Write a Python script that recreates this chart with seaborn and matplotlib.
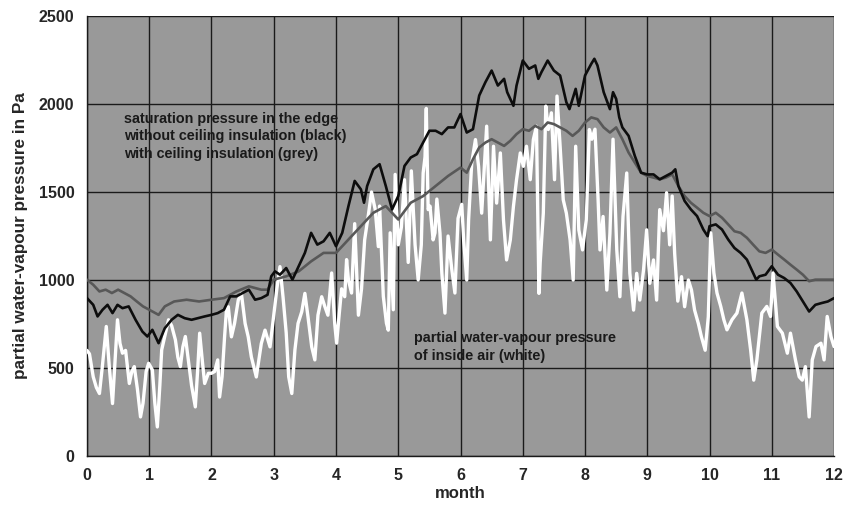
import matplotlib
matplotlib.use("Agg")
import matplotlib.pyplot as plt
import seaborn as sns
import pandas as pd

# ---- data ----
black_month = [0.0, 0.1, 0.17, 0.25, 0.33, 0.41, 0.49, 0.57, 0.67, 0.78, 0.89, 0.97, 1.05, 1.15,
               1.25, 1.36, 1.46, 1.57, 1.68, 1.78, 1.89, 2.0, 2.1, 2.2, 2.3, 2.4, 2.5, 2.6, 2.7,
               2.8, 2.9, 2.96, 3.02, 3.1, 3.2, 3.3, 3.4, 3.5, 3.6, 3.7, 3.8, 3.9, 4.0, 4.1, 4.2,
               4.3, 4.4, 4.45, 4.5, 4.6, 4.7, 4.8, 4.9, 5.0, 5.1, 5.2, 5.3, 5.4, 5.5, 5.6, 5.7,
               5.8, 5.9, 6.0, 6.1, 6.2, 6.3, 6.4, 6.5, 6.6, 6.7, 6.75, 6.8, 6.85, 6.9, 7.0, 7.1,
               7.2, 7.25, 7.3, 7.4, 7.5, 7.6, 7.7, 7.75, 7.8, 7.85, 7.9, 8.0, 8.1, 8.15, 8.2, 8.3,
               8.4, 8.45, 8.5, 8.55, 8.6, 8.7, 8.8, 8.9, 9.0, 9.1, 9.2, 9.3, 9.4, 9.45, 9.5, 9.6,
               9.7, 9.8, 9.9, 9.97, 10.0, 10.1, 10.2, 10.3, 10.4, 10.5, 10.6, 10.7, 10.75, 10.8,
               10.9, 11.0, 11.1, 11.2, 11.3, 11.4, 11.5, 11.6, 11.7, 11.8, 11.9, 12.0]
black_pa = [897, 859, 793, 831, 859, 812, 859, 840, 850, 774, 707, 679, 717, 641,
            726, 774, 802, 783, 774, 783, 793, 802, 812, 831, 907, 907, 926, 945, 888,
            897, 916, 1021, 1049, 1030, 1068, 1002, 1078, 1154, 1268, 1201, 1220, 1268, 1192, 1268, 1420,
            1563, 1515, 1439, 1534, 1629, 1658, 1534, 1401, 1477, 1648, 1696, 1715, 1781, 1848, 1848, 1829,
            1867, 1867, 1943, 1838, 1857, 2048, 2124, 2190, 2105, 2143, 2067, 2029, 1990, 2105, 2247, 2200,
            2219, 2143, 2181, 2247, 2190, 2162, 2010, 1971, 2029, 2086, 1990, 2162, 2228, 2257, 2219, 2067,
            1971, 2067, 2029, 1924, 1867, 1819, 1705, 1610, 1600, 1600, 1572, 1591, 1610, 1629, 1534, 1449,
            1401, 1363, 1287, 1249, 1306, 1316, 1287, 1230, 1182, 1154, 1116, 1040, 1002, 1021,
            1030, 1078, 1030, 1011, 983, 935, 878, 821, 859, 869, 878, 897]

grey_month = [0.0, 0.1, 0.2, 0.3, 0.4, 0.5, 0.6, 0.7, 0.8, 0.9, 1.0, 1.15, 1.25, 1.4, 1.6, 1.8,
              2.0, 2.2, 2.4, 2.6, 2.8, 2.9, 3.0, 3.2, 3.4, 3.6, 3.8, 4.0, 4.2, 4.4, 4.6, 4.8,
              5.0, 5.2, 5.4, 5.6, 5.8, 6.0, 6.1, 6.2, 6.3, 6.4, 6.5, 6.6, 6.7, 6.8, 6.9, 7.0,
              7.1, 7.2, 7.3, 7.4, 7.5, 7.6, 7.7, 7.8, 7.9, 8.0, 8.1, 8.2, 8.3, 8.4, 8.5, 8.6,
              8.7, 8.8, 8.9, 9.0, 9.1, 9.2, 9.3, 9.4, 9.5, 9.6, 9.7, 9.8, 9.9, 10.0, 10.1, 10.2,
              10.3, 10.4, 10.5, 10.6, 10.7, 10.8, 10.9, 11.0, 11.1, 11.2, 11.3, 11.4, 11.5, 11.6,
              11.7, 11.8, 11.9, 12.0]
grey_pa = [1002, 973, 935, 945, 926, 945, 926, 907, 878, 850, 831, 802, 850, 878, 888, 878,
           888, 897, 935, 964, 945, 945, 1002, 1021, 1049, 1106, 1154, 1154, 1230, 1306, 1382, 1420,
           1344, 1439, 1477, 1534, 1591, 1639, 1610, 1686, 1753, 1781, 1800, 1781, 1762, 1791, 1829, 1857,
           1848, 1876, 1857, 1895, 1886, 1867, 1848, 1819, 1848, 1895, 1924, 1914, 1867, 1838, 1867, 1800,
           1724, 1667, 1610, 1591, 1582, 1572, 1582, 1600, 1534, 1477, 1439, 1411, 1382, 1363, 1382, 1354,
           1316, 1277, 1268, 1240, 1201, 1163, 1154, 1173, 1144, 1116, 1087, 1059, 1030, 993,
           1002, 1002, 1002, 1002]

white_month = [0.0, 0.04, 0.1, 0.15, 0.2, 0.25, 0.31, 0.36, 0.41, 0.46, 0.49, 0.53, 0.57, 0.62,
               0.68, 0.72, 0.76, 0.81, 0.86, 0.9, 0.95, 0.99, 1.05, 1.09, 1.13, 1.17, 1.2, 1.25,
               1.31, 1.36, 1.42, 1.46, 1.5, 1.54, 1.58, 1.63, 1.68, 1.74, 1.78, 1.81, 1.85, 1.89,
               1.95, 2.0, 2.05, 2.1, 2.13, 2.17, 2.21, 2.24, 2.27, 2.32, 2.37, 2.43, 2.48, 2.54,
               2.59, 2.64, 2.72, 2.8, 2.86, 2.94, 3.0, 3.05, 3.1, 3.15, 3.2, 3.24, 3.29, 3.34,
               3.39, 3.45, 3.5, 3.55, 3.61, 3.66, 3.71, 3.77, 3.82, 3.87, 3.93, 3.98, 4.01, 4.05,
               4.09, 4.14, 4.17, 4.2, 4.25, 4.3, 4.36, 4.41, 4.46, 4.52, 4.57, 4.63, 4.68, 4.7,
               4.76, 4.81, 4.84, 4.87, 4.92, 4.95, 5.0, 5.05, 5.1, 5.16, 5.21, 5.27, 5.32, 5.37,
               5.4, 5.43, 5.45, 5.48, 5.51, 5.56, 5.59, 5.62, 5.67, 5.7, 5.75, 5.8, 5.86, 5.91,
               5.96, 6.02, 6.05, 6.1, 6.13, 6.18, 6.24, 6.29, 6.34, 6.42, 6.48, 6.53, 6.58, 6.64,
               6.69, 6.74, 6.8, 6.85, 6.9, 6.96, 7.01, 7.06, 7.12, 7.17, 7.22, 7.26, 7.28, 7.33,
               7.37, 7.41, 7.46, 7.51, 7.55, 7.6, 7.65, 7.7, 7.76, 7.81, 7.85, 7.9, 7.96, 8.02,
               8.07, 8.11, 8.16, 8.21, 8.24, 8.29, 8.35, 8.4, 8.45, 8.51, 8.56, 8.61, 8.67, 8.72,
               8.78, 8.83, 8.88, 8.94, 8.99, 9.04, 9.1, 9.15, 9.2, 9.26, 9.31, 9.36, 9.4, 9.44,
               9.49, 9.55, 9.6, 9.66, 9.71, 9.76, 9.82, 9.87, 9.93, 9.98, 10.02, 10.07, 10.12, 10.18,
               10.23, 10.28, 10.36, 10.44, 10.52, 10.6, 10.66, 10.71, 10.76, 10.84, 10.92, 10.98, 11.02, 11.09,
               11.17, 11.25, 11.3, 11.38, 11.44, 11.49, 11.54, 11.6, 11.65, 11.71, 11.79, 11.84, 11.89, 11.95,
               12.0]
white_pa = [600, 580, 450, 390, 355, 520, 736, 500, 298, 600, 774, 640, 584, 600,
            412, 480, 508, 380, 222, 300, 480, 527, 489, 300, 165, 400, 603, 680,
            774, 740, 660, 560, 508, 620, 679, 540, 400, 279, 500, 698, 550, 412,
            470, 470, 480, 546, 335, 450, 677, 829, 848, 677, 753, 886, 924, 753,
            677, 563, 449, 639, 715, 620, 800, 950, 1076, 900, 700, 450, 355, 603,
            753, 820, 924, 791, 620, 546, 800, 905, 850, 800, 1040, 750, 641, 800,
            950, 905, 1116, 1000, 926, 1320, 800, 950, 1228, 1370, 1500, 1400, 1190, 1420,
            907, 755, 715, 1268, 831, 1600, 1200, 1300, 1570, 1100, 1620, 1200, 1000, 1200,
            1608, 1700, 1975, 1400, 1420, 1228, 1268, 1460, 1266, 1040, 812, 1250, 1060, 926,
            1350, 1430, 1228, 1000, 1342, 1665, 1798, 1646, 1380, 1874, 1228, 1760, 1437, 1722,
            1342, 1114, 1228, 1418, 1570, 1722, 1646, 1760, 1570, 1798, 1874, 924, 1100, 1380,
            1988, 1855, 1950, 1570, 2045, 1760, 1456, 1380, 1228, 1000, 1760, 1285, 1171, 1342,
            1855, 1800, 1857, 1456, 1171, 1361, 943, 1266, 1800, 1171, 905, 1361, 1608, 1038,
            829, 1038, 886, 1057, 1285, 981, 1114, 886, 1400, 1280, 1496, 1200, 1477, 1150,
            880, 1019, 848, 1000, 943, 829, 753, 677, 601, 791, 1268, 1040, 926, 850,
            774, 717, 774, 812, 926, 774, 603, 431, 546, 812, 850, 793, 1040, 736,
            698, 584, 698, 546, 450, 431, 508, 222, 546, 622, 641, 546, 793, 679,
            622]

x_ticks = list(range(0, 13))
y_ticks = [0, 500, 1000, 1500, 2000, 2500]

# ---- plotting ----
sns.set_theme(style="white")
plt.rcParams['font.family'] = ['Liberation Sans', 'DejaVu Sans']

fig = plt.figure(figsize=(8.47, 5.07), dpi=100)
ax = fig.add_axes([0.1027, 0.1006, 0.9847 - 0.1027, 0.9684 - 0.1006])
ax.set_facecolor('#999999')

df_w = pd.DataFrame({'month': white_month, 'pa': white_pa})
df_g = pd.DataFrame({'month': grey_month, 'pa': grey_pa})
df_b = pd.DataFrame({'month': black_month, 'pa': black_pa})

sns.lineplot(data=df_w, x='month', y='pa', ax=ax, color='white', linewidth=2.4,
             estimator=None, sort=False, zorder=3)
sns.lineplot(data=df_g, x='month', y='pa', ax=ax, color='#585858', linewidth=1.9,
             estimator=None, sort=False, zorder=4)
sns.lineplot(data=df_b, x='month', y='pa', ax=ax, color='#0d0d0d', linewidth=1.9,
             estimator=None, sort=False, zorder=5)

ax.set_xlim(0, 12)
ax.set_ylim(0, 2500)
ax.set_xticks(x_ticks)
ax.set_yticks(y_ticks)
ax.grid(True, color='#1a1a1a', linewidth=1.0, zorder=1)
ax.set_axisbelow(True)

for s in ['top', 'right']:
    ax.spines[s].set_visible(False)
for s in ['left', 'bottom']:
    ax.spines[s].set_color('#1a1a1a')
    ax.spines[s].set_linewidth(1.0)

ax.tick_params(axis='both', which='major', direction='out', length=6, width=1,
               color='#1a1a1a', labelsize=11.5, pad=3)
for lbl in ax.get_xticklabels() + ax.get_yticklabels():
    lbl.set_fontweight('bold')

ax.set_xlabel('month', fontsize=12, fontweight='bold', labelpad=2)
ax.set_ylabel('partial water-vapour pressure in Pa', fontsize=12.3, fontweight='bold', labelpad=8)

ax.text(0.595, 1816, 'saturation pressure in the edge\nwithout ceiling insulation (black)\nwith ceiling insulation (grey)',
        fontsize=10.4, fontweight='bold', color='#1a1a1a', va='center', ha='left',
        linespacing=1.3, zorder=6)
ax.text(5.26, 620, 'partial water-vapour pressure\nof inside air (white)',
        fontsize=10.4, fontweight='bold', color='#1a1a1a', va='center', ha='left',
        linespacing=1.35, zorder=6)

fig.savefig('out.png', dpi=100)
